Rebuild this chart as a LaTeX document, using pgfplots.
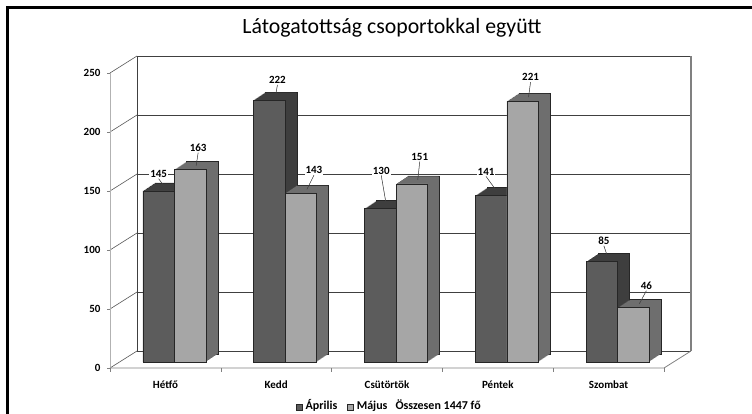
\documentclass[border=0pt]{standalone}
\usepackage{pgfplots}
\usepackage{pgfplotstable}
\pgfplotsset{compat=1.18}
\usepackage{fontspec}
\setmainfont{Carlito}
\definecolor{darkfront}{HTML}{5C5C5C}
\definecolor{darkside}{HTML}{3E3E3E}
\definecolor{lightfront}{HTML}{A6A6A6}
\definecolor{lightside}{HTML}{6E6E6E}
\definecolor{gridc}{HTML}{404040}
\definecolor{diagc}{HTML}{555555}
\definecolor{edgec}{HTML}{262626}

\newcommand{\legsq}[1]{{\setlength{\fboxsep}{0pt}\setlength{\fboxrule}{0.5pt}\fcolorbox{edgec}{#1}{\rule{0pt}{5.5pt}\rule{5.5pt}{0pt}}}}

\pgfplotstableread{
x apr maj adx ady mdx mdy
0 145 163 0 17 8 22
1 222 143 8 20 13 23
2 130 151 1 38 8 27
3 141 221 -5 24 8 24
4 85 46 2 21 13 22
}\datatable

\pgfplotsset{
  barlabel/.style={
    nodes near coords={\pgfmathprintnumber{\pgfplotspointmeta}},
    every node near coord/.append style={anchor=center, inner sep=1pt, fill=white, text=black,
      font=\bfseries\fontsize{11}{13}\selectfont,
      xshift={(#1+\dx)*1pt}, yshift={\dy*1pt},
      append after command={(\tikzlastnode.south) edge[black!75, line width=0.5pt]
        ([shift={({(6-\dx)*1pt},{(4-\dy)*1pt})}]\tikzlastnode.center)}},
  },
}

\begin{document}
\begin{tikzpicture}
\useasboundingbox (0,0) rectangle (752pt,414pt);
\node[font=\fontsize{21.8}{26}\selectfont] at (392pt,386pt) {Látogatottság csoportokkal együtt};
\begin{axis}[
  at={(110pt,46pt)}, anchor=south west,
  scale only axis, width=554pt, height=295pt,
  xmin=-0.5, xmax=4.5, ymin=0, ymax=250,
  axis line style={draw=none},
  clip=false,
  ytick={0,50,...,250},
  xtick={0,...,4},
  xticklabels={Hétfő,Kedd,Csütörtök,Péntek,Szombat},
  minor xtick={-0.5,0.5,...,4.5},
  xtick pos=lower, ytick pos=lower,
  tick align=outside,
  major x tick style={draw=none},
  major tick length=3pt, minor tick length=4pt,
  tick style={color=gray, line width=0.6pt},
  ticklabel style={font=\bfseries\fontsize{11}{13}\selectfont},
  /pgf/number format/assume math mode=true,
  xticklabel style={yshift=-6pt},
  yticklabel style={xshift=-3pt},
]
% walls
\pgfplotsinvokeforeach{0,50,100,150,200,250}{
  \draw[diagc, line width=0.6pt] (axis cs:-0.5,#1) -- ++(27pt,17pt);
  \draw[gridc, line width=0.8pt] ([shift={(27pt,17pt)}]axis cs:-0.5,#1) -- ([shift={(27pt,17pt)}]axis cs:4.5,#1);
}
\draw[gridc, line width=0.8pt] ([shift={(27pt,17pt)}]axis cs:-0.5,0) -- ([shift={(27pt,17pt)}]axis cs:-0.5,250);
\draw[gray, line width=1.5pt] ([shift={(27pt,17pt)}]axis cs:4.5,0) -- ([shift={(27pt,17pt)}]axis cs:4.5,250);
\draw[black!30, line width=0.8pt] (axis cs:-0.5,0) -- (axis cs:-0.5,250);
\draw[gray, line width=0.8pt] (axis cs:-0.5,0) -- (axis cs:4.5,0) -- ++(27pt,17pt);
% April bars (depth layers)
\addplot[ybar, bar width=31.5pt, bar shift=-15.75pt, fill=darkside, draw=edgec, line width=0.5pt, forget plot, xshift=21pt, yshift=14pt] table[x=x,y=apr]{\datatable};
\pgfplotsinvokeforeach{11,10,9,8,7,6,5,4,3,2,1}{
\addplot[ybar, bar width=31.5pt, bar shift=-15.75pt, fill=darkside, draw=none, forget plot, xshift={9pt+#1pt}, yshift={6pt+#1*0.6667pt}] table[x=x,y=apr]{\datatable};
}
\addplot[ybar, bar width=31.5pt, bar shift=-15.75pt, fill=darkfront, draw=edgec, line width=0.5pt, xshift=9pt, yshift=6pt,
  visualization depends on={\thisrow{adx} \as \dx},
  visualization depends on={\thisrow{ady} \as \dy},
  barlabel=-15.75]
  table[x=x,y=apr]{\datatable};
% May bars
\addplot[ybar, bar width=31.5pt, bar shift=15.75pt, fill=lightside, draw=edgec, line width=0.5pt, forget plot, xshift=21pt, yshift=14pt] table[x=x,y=maj]{\datatable};
\pgfplotsinvokeforeach{11,10,9,8,7,6,5,4,3,2,1}{
\addplot[ybar, bar width=31.5pt, bar shift=15.75pt, fill=lightside, draw=none, forget plot, xshift={9pt+#1pt}, yshift={6pt+#1*0.6667pt}] table[x=x,y=maj]{\datatable};
}
\addplot[ybar, bar width=31.5pt, bar shift=15.75pt, fill=lightfront, draw=edgec, line width=0.5pt, xshift=9pt, yshift=6pt,
  visualization depends on={\thisrow{mdx} \as \dx},
  visualization depends on={\thisrow{mdy} \as \dy},
  barlabel=15.75]
  table[x=x,y=maj]{\datatable};
\end{axis}
\node[anchor=base, inner sep=0pt, font=\bfseries\fontsize{12}{14}\selectfont] at (388.5pt,4pt)
  {\legsq{darkfront}\hspace{3pt}Április\hspace{10pt}\legsq{lightfront}\hspace{3pt}Május\hspace{8pt}Összesen 1447 fő};
\draw[line width=3pt] (7pt,-10pt) -- (7pt,406pt) -- (770pt,406pt);
\end{tikzpicture}
\end{document}
